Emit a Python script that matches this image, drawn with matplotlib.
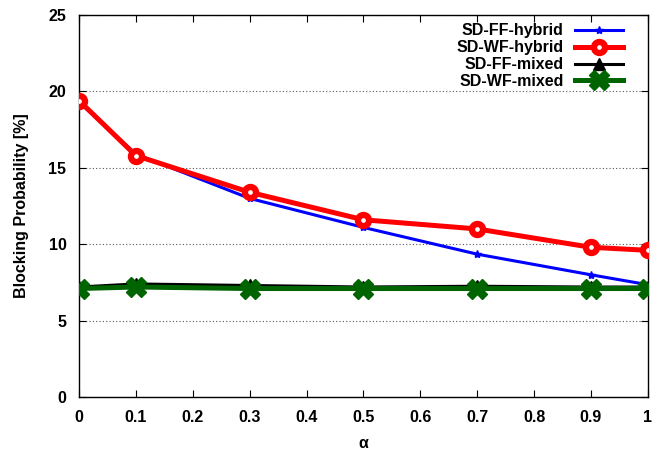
import matplotlib.pyplot as plt
import numpy as np

# ============================================================================
# Data
# ============================================================================

ALPHA = [0, 0.1, 0.3, 0.5, 0.7, 0.9, 1.0]

SD_FF_HYBRID = [19.3, 15.9, 13.0, 11.1, 9.35, 8.0, 7.35]
SD_WF_HYBRID = [19.4, 15.8, 13.4, 11.6, 11.0, 9.8, 9.6]
SD_FF_MIXED = [7.2, 7.4, 7.3, 7.2, 7.25, 7.2, 7.2]
SD_WF_MIXED = [7.1, 7.2, 7.1, 7.1, 7.1, 7.1, 7.1]

X_TICKS = [0, 0.1, 0.2, 0.3, 0.4, 0.5, 0.6, 0.7, 0.8, 0.9, 1]
X_TICK_LABELS = ["0", "0.1", "0.2", "0.3", "0.4", "0.5", "0.6", "0.7", "0.8", "0.9", "1"]
Y_TICKS = [0, 5, 10, 15, 20, 25]

# ============================================================================
# Plotting
# ============================================================================

plt.rcParams["font.family"] = ["Liberation Sans", "DejaVu Sans"]
plt.rcParams["font.weight"] = "bold"

fig = plt.figure(figsize=(6.61, 4.51), dpi=100)
ax = fig.add_axes([0.1195, 0.1197, 0.8605, 0.847])

ax.plot(ALPHA, SD_FF_HYBRID, color="#0000ff", linewidth=2.2, marker="*",
        markersize=6, label="SD-FF-hybrid", zorder=3)
ax.plot(ALPHA, SD_WF_HYBRID, color="#ff0000", linewidth=3.6, marker="o",
        markersize=8, markerfacecolor="white", markeredgewidth=4.5,
        label="SD-WF-hybrid", zorder=4)
ax.plot(ALPHA, SD_FF_MIXED, color="black", linewidth=2.2, marker="^",
        markersize=9, label="SD-FF-mixed", zorder=5)
ax.plot(ALPHA, SD_WF_MIXED, color="#006400", linewidth=3.6, marker="X",
        markersize=14, label="SD-WF-mixed", zorder=6)

ax.set_xlim(0, 1)
ax.set_ylim(0, 25)
ax.set_xticks(X_TICKS)
ax.set_xticklabels(X_TICK_LABELS)
ax.set_yticks(Y_TICKS)
ax.tick_params(axis="both", which="both", direction="in", top=True, right=True,
               labelsize=11.5, length=5)
ax.tick_params(axis="x", pad=9)
ax.tick_params(axis="y", pad=9)
ax.grid(True, axis="y", linestyle=(0, (1, 2)), color="#555555", linewidth=0.8)

ax.set_xlabel("α", fontsize=11.5, fontweight="bold", labelpad=8)
ax.set_ylabel("Blocking Probability [%]", fontsize=11.5, fontweight="bold",
              labelpad=14)

ax.legend(loc="upper right", bbox_to_anchor=(0.967, 0.995), markerfirst=False,
          frameon=False, fontsize=11.5, handlelength=3.0, labelspacing=0.12,
          borderaxespad=0.0, handletextpad=0.7)

for spine in ax.spines.values():
    spine.set_linewidth(1.0)

fig.savefig("out.png", dpi=100)
